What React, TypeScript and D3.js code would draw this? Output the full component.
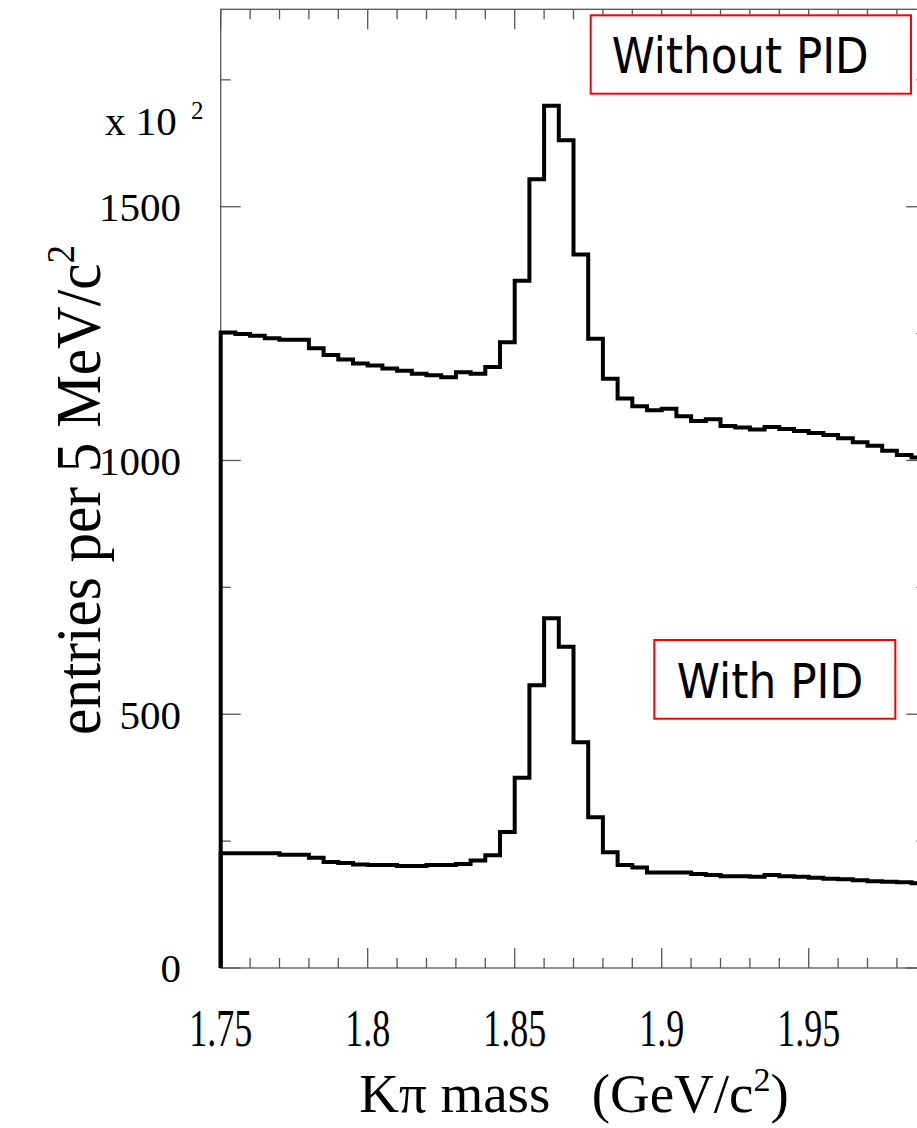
import * as d3 from 'd3';
import React from 'react';

// bin contents, in units of 10^2 entries per 5 MeV/c^2
const withoutPid = [
  1252, 1249, 1246, 1241, 1238, 1238, 1221, 1208, 1199, 1191, 1187, 1181,
  1177, 1171, 1168, 1164, 1174, 1171, 1184, 1233, 1354, 1554, 1699, 1631,
  1406, 1240, 1161, 1122, 1107, 1099, 1102, 1087, 1078, 1081, 1068, 1065,
  1061, 1066, 1062, 1058, 1054, 1050, 1044, 1036, 1029, 1019, 1011, 1006,
];
const withPid = [
  226, 226, 226, 226, 223, 223, 217, 209, 207, 204, 203, 203,
  201, 201, 203, 203, 205, 212, 222, 268, 375, 557, 689, 633,
  445, 297, 228, 203, 198, 188, 188, 188, 185, 183, 181, 181,
  180, 183, 181, 180, 178, 176, 175, 173, 171, 170, 169, 167,
];
const massLow = 1.75;
const binWidth = 0.005;
const xTickLabels = ['1.75', '1.8', '1.85', '1.9', '1.95'];
const yTickLabels = ['0', '500', '1000', '1500'];
const legendLabels = ['Without PID', 'With PID'];

const serif = '"Liberation Serif", "Times New Roman", serif';
const sans = '"DejaVu Sans", Verdana, sans-serif';

function App() {
  const W = 917;
  const H = 1128;
  const x = d3.scaleLinear().domain([1.75, 1.99]).range([220.7, 926.3]);
  const y = d3.scaleLinear().domain([0, 1889]).range([968, 9.3]);

  // histogram outline like ROOT draws it: up from zero, then steps
  function outline(counts) {
    const pts = [[x(massLow), y(0)]];
    counts.forEach((c, i) => {
      const lo = massLow + i * binWidth;
      pts.push([x(lo), y(c)]);
      pts.push([x(lo + binWidth), y(c)]);
    });
    pts.push([x(massLow + counts.length * binWidth), y(0)]);
    return d3.line()(pts);
  }

  const xMinor = d3.range(175, 200, 1).map(d => d / 100);
  const yMinor = d3.range(0, 1889, 250);
  const frameColor = '#555';

  return (
    <svg width={W} height={H} style={{ position: 'absolute', left: 0, top: 0, background: '#fff' }}>
      {/* frame */}
      <rect x={x(1.75)} y={y(1889)} width={x(1.99) - x(1.75)} height={y(0) - y(1889)}
        fill="none" stroke={frameColor} strokeWidth={1.3} />

      {/* x ticks, bottom and top */}
      {xMinor.map((t, i) => {
        const len = i % 5 === 0 ? 20 : 10;
        return (
          <g key={'xt' + i} stroke={frameColor} strokeWidth={1.3}>
            <line x1={x(t)} x2={x(t)} y1={y(0)} y2={y(0) - len} />
            <line x1={x(t)} x2={x(t)} y1={y(1889)} y2={y(1889) + len} />
          </g>
        );
      })}
      {/* y ticks, left and right */}
      {yMinor.map((t, i) => {
        const len = i % 2 === 0 ? 20 : 10;
        return (
          <g key={'yt' + i} stroke={frameColor} strokeWidth={1.3}>
            <line x1={x(1.75)} x2={x(1.75) + len} y1={y(t)} y2={y(t)} />
            <line x1={x(1.99)} x2={x(1.99) - len} y1={y(t)} y2={y(t)} />
          </g>
        );
      })}

      {/* histograms */}
      <path d={outline(withoutPid)} fill="none" stroke="#000" strokeWidth={4} />
      <path d={outline(withPid)} fill="none" stroke="#000" strokeWidth={4} />

      {/* y tick labels */}
      {yTickLabels.map(l => (
        <text key={'yl' + l} x={181} y={y(+l)} dy="0.35em" textAnchor="end"
          style={{ fontFamily: serif }} fontSize={41}>{l}</text>
      ))}
      <text x={105} y={135} style={{ fontFamily: serif }} fontSize={41}>x 10</text>
      <text x={191} y={119} style={{ fontFamily: serif }} fontSize={25}>2</text>

      {/* x tick labels */}
      {xTickLabels.map(l => (
        <text key={'xl' + l} transform={`translate(${x(+l)},1046) scale(0.9,1.3)`} textAnchor="middle"
          style={{ fontFamily: serif }} fontSize={40}>{l}</text>
      ))}

      {/* axis titles */}
      <text x={574} y={1112} textAnchor="middle" style={{ fontFamily: serif }} fontSize={55}>
        Kπ mass{'\u00a0\u00a0\u00a0'}(GeV/c<tspan dy={-21} fontSize={34}>2</tspan><tspan dy={21}>)</tspan>
      </text>
      <text transform="translate(100,490) rotate(-90)" textAnchor="middle" style={{ fontFamily: serif }}
        fontSize={64} textLength={490} lengthAdjust="spacingAndGlyphs">
        entries per 5 MeV/c<tspan dy={-26} fontSize={40}>2</tspan>
      </text>

      {/* legend boxes */}
      <rect x={590.7} y={15.3} width={320.3} height={78.4} fill="#fff" stroke="#f00" strokeWidth={2} />
      <text x={611.7} y={72.7} style={{ fontFamily: sans }} fontSize={50} textLength={257}
        lengthAdjust="spacingAndGlyphs">{legendLabels[0]}</text>
      <rect x={654.3} y={640} width={241} height={78.7} fill="#fff" stroke="#f00" strokeWidth={2} />
      <text x={676.7} y={698.3} style={{ fontFamily: sans }} fontSize={48} textLength={186.6}
        lengthAdjust="spacingAndGlyphs">{legendLabels[1]}</text>
    </svg>
  );
}

export default App;
